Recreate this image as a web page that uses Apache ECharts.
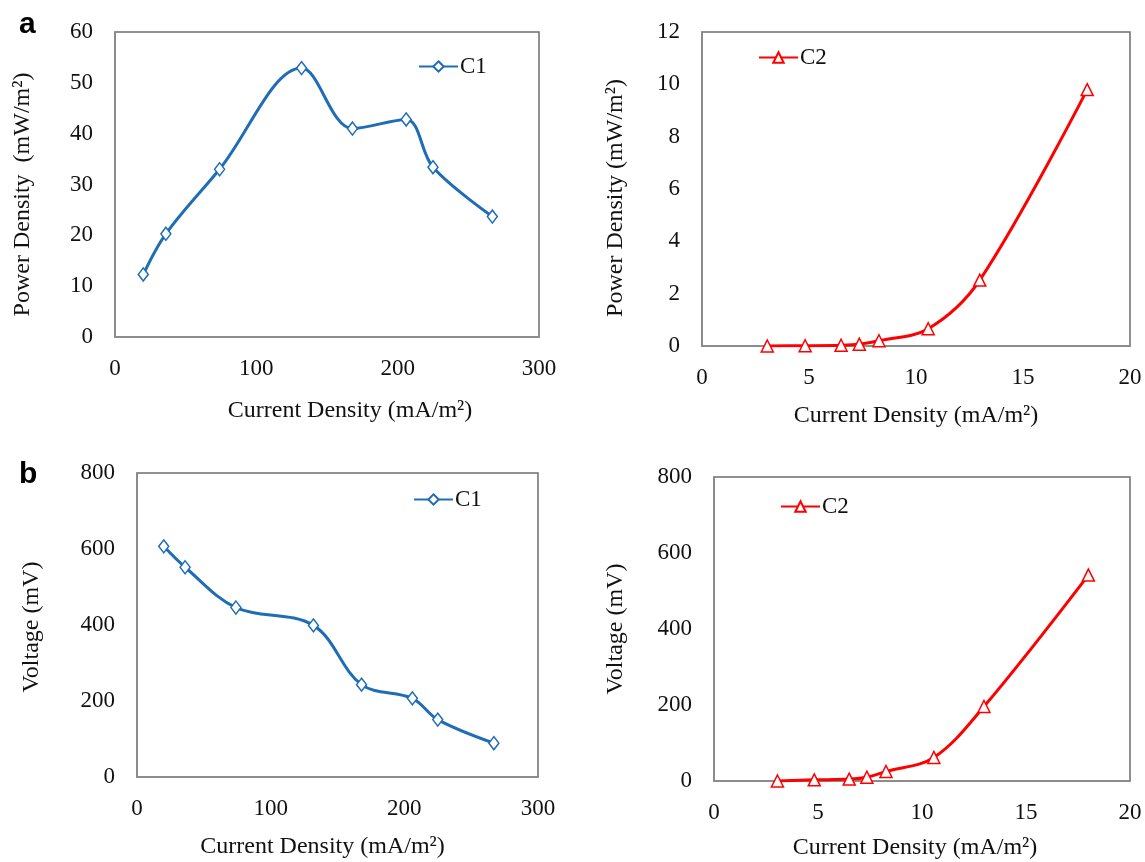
<!DOCTYPE html>
<html>
<head>
<meta charset="utf-8">
<script src="https://cdn.jsdelivr.net/npm/echarts@6/dist/echarts.min.js"></script>
<style>
html,body{margin:0;padding:0;background:#fff;}
#chart{width:1145px;height:862px;}
</style>
</head>
<body>
<div id="chart"></div>
<script>
// ---- data ----
var currentC1 = [20, 36, 74, 132, 168, 206, 225, 267];          // mA/m2
var powerC1   = [12.3, 20.3, 33.0, 52.9, 41.0, 42.8, 33.4, 23.7]; // mW/m2
var voltageC1 = [607, 552, 446, 399, 243, 207, 151, 89];          // mV

var currentC2 = [3.05, 4.82, 6.5, 7.35, 8.27, 10.57, 12.98, 18.0];
var powerC2   = [0, 0.01, 0.03, 0.07, 0.2, 0.66, 2.52, 9.8];
var voltageC2 = [0, 3, 5, 10, 25, 62, 196, 542];

var seriesNames = ['C1', 'C2'];
var xTitle = 'Current Density (mA/m\u00B2)';
var yTitlePowerA = 'Power Density  (mW/m\u00B2)';
var yTitlePowerB = 'Power Density (mW/m\u00B2)';
var yTitleVolt = 'Voltage (mV)';
var panelLabels = ['a', 'b'];

function pairs(xs, ys) { return xs.map(function (x, i) { return [x, ys[i]]; }); }

var FONT = 'Liberation Serif';
var BLUE = '#1f6db5';
var RED = '#ff0000';

var chart = echarts.init(document.getElementById('chart'), null, { renderer: 'canvas' });

function grid(l, t, w, h) {
  return { left: l, top: t, width: w, height: h, show: true, borderColor: '#6e6e6e', borderWidth: 1.5, backgroundColor: 'transparent' };
}
function xAx(idx, max, interval, gap, pad) {
  return {
    type: 'value', gridIndex: idx, min: 0, max: max, interval: interval,
    name: xTitle, nameLocation: 'middle', nameGap: gap,
    nameTextStyle: { fontFamily: FONT, fontSize: 24, color: '#111', padding: pad || 0 },
    axisLine: { show: true, onZero: false, lineStyle: { color: '#8a8a8a', width: 1.5 } },
    axisTick: { show: false }, splitLine: { show: false },
    axisLabel: { fontFamily: FONT, fontSize: 23, color: '#111', margin: 20 }
  };
}
function yAx(idx, max, interval, name, gap, pad) {
  return {
    type: 'value', gridIndex: idx, min: 0, max: max, interval: interval,
    name: name, nameLocation: 'middle', nameGap: gap,
    nameTextStyle: { fontFamily: FONT, fontSize: 24, color: '#111', padding: pad || 0 },
    axisLine: { show: true, onZero: false, lineStyle: { color: '#8a8a8a', width: 1.5 } },
    axisTick: { show: false }, splitLine: { show: false },
    axisLabel: { fontFamily: FONT, fontSize: 23, color: '#111', margin: 22 }
  };
}
function ser(name, idx, data, color, symbol, size) {
  return {
    type: 'line', name: name, xAxisIndex: idx, yAxisIndex: idx,
    data: data, smooth: 0.35, symbol: symbol, symbolSize: size,
    lineStyle: { color: color, width: 3 },
    itemStyle: { color: '#fff', borderColor: color, borderWidth: 1.5 },
    emphasis: { disabled: true }, z: 3
  };
}
function leg(name, left, top) {
  return {
    data: [name], left: left, top: top, padding: 0, itemWidth: 39, itemHeight: 13,
    textStyle: { fontFamily: FONT, fontSize: 23, color: '#111', padding: [0, 0, 0, -3] },
    selectedMode: false
  };
}

chart.setOption({
  animation: false,
  backgroundColor: '#fff',
  grid: [
    grid(115, 32, 424, 305),
    grid(702, 32, 428, 314),
    grid(137, 473, 401, 304),
    grid(714, 477, 416, 304)
  ],
  xAxis: [
    xAx(0, 300, 100, 62, [0, 0, 0, 46]),
    xAx(1, 20, 5, 58),
    xAx(2, 300, 100, 58, [0, 0, 0, -30]),
    xAx(3, 20, 5, 55, [0, 0, 0, -14])
  ],
  yAxis: [
    yAx(0, 60, 10, yTitlePowerA, 80, [0, 0, 0, -20]),
    yAx(1, 12, 2, yTitlePowerB, 74, [0, 0, 0, -18]),
    yAx(2, 800, 200, yTitleVolt, 93, [0, 0, 0, -4]),
    yAx(3, 800, 200, yTitleVolt, 86)
  ],
  legend: [
    leg(seriesNames[0], 418, 55),
    leg(seriesNames[1], 758, 46),
    leg(seriesNames[0], 413, 488),
    leg(seriesNames[1], 780, 495)
  ],
  graphic: [
    { type: 'text', left: 19, top: 10, style: { text: panelLabels[0], font: 'bold 30px "Liberation Sans"', fill: '#000' } },
    { type: 'text', left: 19, top: 460, style: { text: panelLabels[1], font: 'bold 30px "Liberation Sans"', fill: '#000' } }
  ],
  series: [
    ser(seriesNames[0], 0, pairs(currentC1, powerC1), BLUE, 'diamond', [10, 13]),
    ser(seriesNames[1], 1, pairs(currentC2, powerC2), RED, 'triangle', [12, 12]),
    ser(seriesNames[0], 2, pairs(currentC1, voltageC1), BLUE, 'diamond', [10, 13]),
    ser(seriesNames[1], 3, pairs(currentC2, voltageC2), RED, 'triangle', [12, 12])
  ]
});
</script>
</body>
</html>
